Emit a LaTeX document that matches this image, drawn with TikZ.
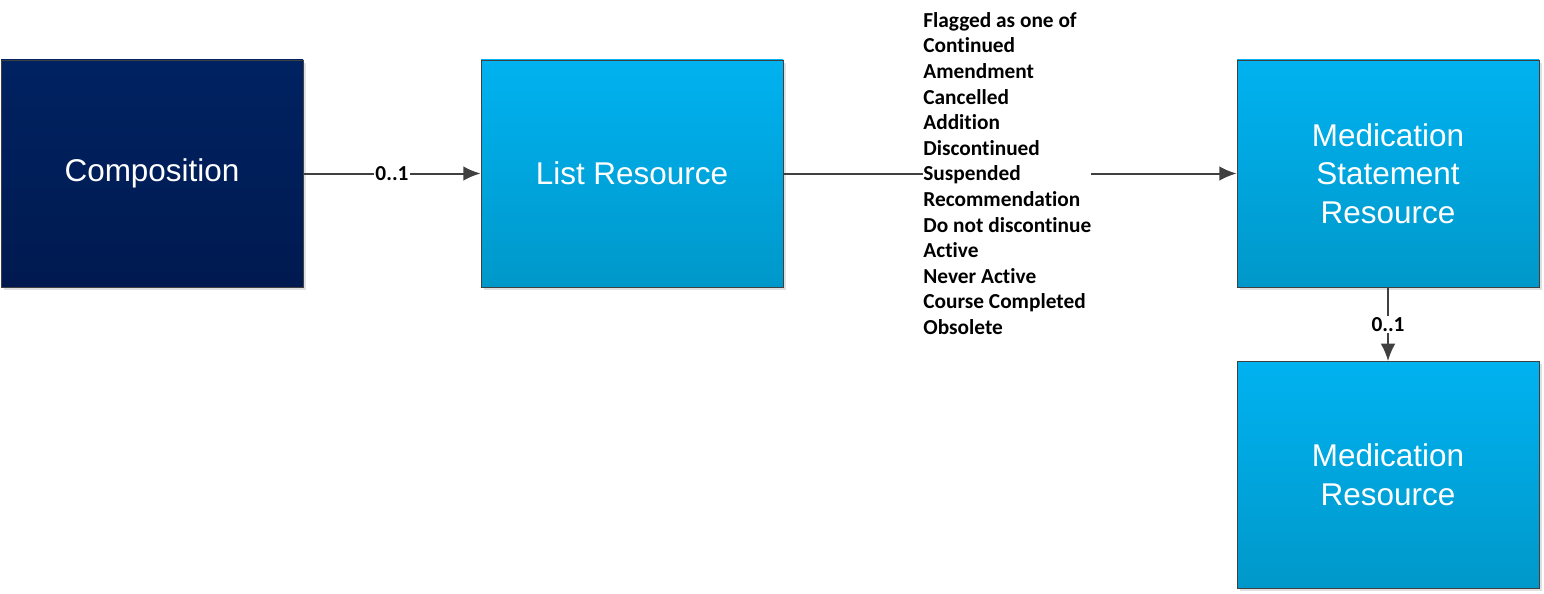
\documentclass[tikz,border=0pt]{standalone}
\usepackage{fontspec}
\setmainfont{Liberation Sans}
\newfontfamily\calibri[Ligatures=NoCommon]{Carlito}
\usetikzlibrary{arrows.meta,shadows}
\definecolor{navytop}{HTML}{002261}
\definecolor{navybot}{HTML}{001A50}
\definecolor{cyantop}{HTML}{00B2F0}
\definecolor{cyanbot}{HTML}{0098CA}
\definecolor{edgegray}{HTML}{404040}
\tikzset{>={Latex[length=13pt,width=11pt]}}
\tikzset{
  box/.style={rectangle,draw=edgegray,line width=0.6pt,minimum width=226.5pt,minimum height=170.3pt,
    text=white,align=center,font=\fontsize{23.6}{29}\selectfont,
    drop shadow={shadow xshift=2.2pt,shadow yshift=-2.2pt,fill=black!12,opacity=1}},
  darkbox/.style={box,top color=navytop,bottom color=navybot},
  lightbox/.style={box,top color=cyantop,bottom color=cyanbot},
  conn/.style={->,draw=edgegray,line width=1.5pt},
  card/.style={fill=white,inner sep=1pt,font=\calibri\bfseries\fontsize{16}{19.2}\selectfont},
  flags/.style={fill=white,inner sep=0pt,align=left,font=\calibri\bfseries\fontsize{16}{19.2}\selectfont}
}
\begin{document}
\begin{tikzpicture}[x=0.75pt,y=-0.75pt]
  \useasboundingbox (0,0) rectangle (1544,593);
  \node[darkbox] (comp) at (152,173.5) {Composition};
  \node[lightbox] (list) at (632,173.5) {List Resource};
  \node[lightbox] (stmt) at (1388,173.5) {Medication\\Statement\\Resource};
  \node[lightbox] (med) at (1388,475) {Medication\\Resource};
  \draw[conn] (comp) -- node[card] {0..1} (list);
  \draw[conn] (list) -- node[flags,xshift=-2pt] {Flagged as one of\\Continued\\Amendment\\Cancelled\\Addition\\Discontinued\\Suspended\\Recommendation\\Do not discontinue\\Active\\Never Active\\Course Completed\\Obsolete} (stmt);
  \draw[conn] (stmt) -- node[card] {0..1} (med);
\end{tikzpicture}
\end{document}
